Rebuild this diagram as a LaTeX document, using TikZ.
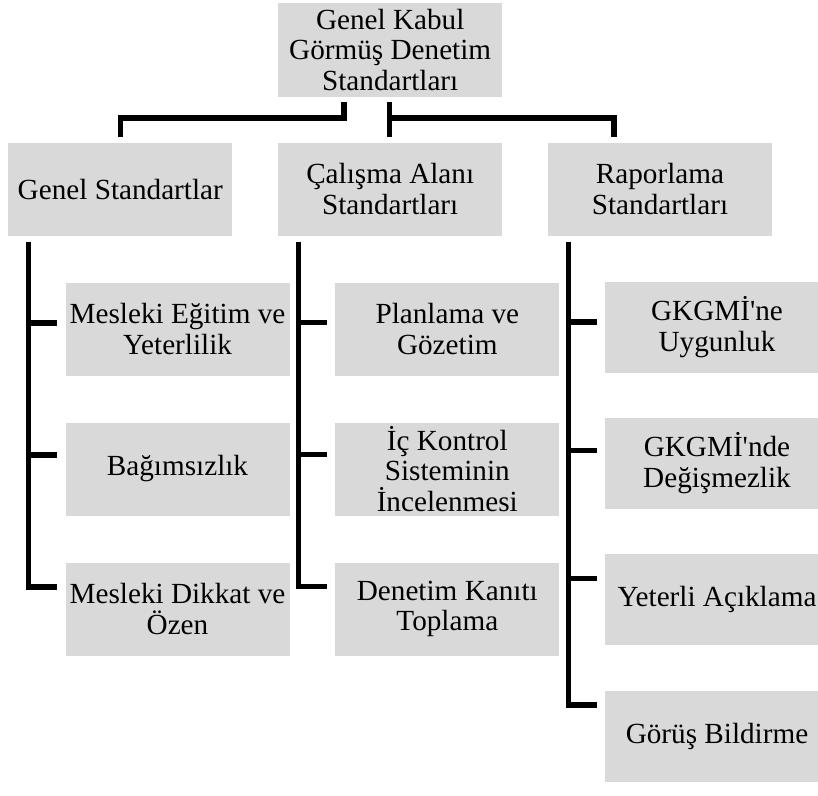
\documentclass[tikz,border=0pt]{standalone}
\usepackage{fontspec}
\setmainfont{Liberation Serif}
\usetikzlibrary{calc}
\definecolor{boxgray}{HTML}{D9D9D9}
\begin{document}
\begin{tikzpicture}[x=0.75pt,y=-0.75pt,
  box/.style={fill=boxgray, draw=none, inner sep=0pt, minimum width=168pt,
    minimum height=69.75pt, align=center,
    font=\fontsize{21.9pt}{23pt}\selectfont},
  shortbox/.style={box, minimum height=68pt},
  link/.style={line width=4pt, line join=miter, line cap=butt}]
\useasboundingbox (0,0) rectangle (818,796);
\clip (0,0) rectangle (818,796);

% top of the hierarchy
\node[box, minimum height=70.5pt] (top) at (390.2,49.7) {Genel Kabul\\Görmüş Denetim\\Standartları};

% three groups of standards
\node[box] (gen) at (120.3,189.2) {Genel Standartlar};
\node[box] (cal) at (390.2,189.2) {Çalışma Alanı\\Standartları};
\node[box] (rap) at (660,189.2) {Raporlama\\Standartları};

% general standards
\node[box] (g1) at (177.5,329.2) {Mesleki Eğitim ve\\Yeterlilik};
\node[box] (g2) at (177.5,469) {Bağımsızlık};
\node[box] (g3) at (177.5,609) {Mesleki Dikkat ve\\Özen};

% field work standards
\node[box] (c1) at (447.3,329.2) {Planlama ve\\Gözetim};
\node[box] (c2) at (447.3,469) {İç Kontrol\\Sisteminin\\İncelenmesi};
\node[box] (c3) at (447.3,609) {Denetim Kanıtı\\Toplama};

% reporting standards
\node[shortbox] (r1) at (717,327.2) {GKGMİ\textquotesingle ne\\Uygunluk};
\node[shortbox] (r2) at (717,463.2) {GKGMİ\textquotesingle nde\\Değişmezlik};
\node[shortbox] (r3) at (717,599.7) {Yeterli Açıklama};
\node[shortbox] (r4) at (717,736.2) {Görüş Bildirme};

% connectors from the top box to the groups
\coordinate (bar) at (0,118);
\coordinate (lt) at ($(top.south)+(-46.2,4.6)$);
\coordinate (mt) at ($(top.south)+(-0.7,4.6)$);
\coordinate (ge) at ($(gen.north)+(0.2,-5.4)$);
\coordinate (ce) at ($(cal.north)+(-0.7,-5.4)$);
\coordinate (re) at ($(rap.north)+(-46,-5.4)$);
\draw[link] (lt) -- (lt |- bar) -- (ge |- bar) -- (ge);
\draw[link] (mt) -- (ce);
\draw[link] (mt |- bar) -- (re |- bar) -- (re);

% trunks under each group
\coordinate (gtr) at ($(gen.south west)+(20.5,5.6)$);
\coordinate (ctr) at ($(cal.south west)+(20.5,5.6)$);
\coordinate (rtr) at ($(rap.south west)+(21,5.6)$);

% tick ends
\coordinate (g1t) at (56.7,323);
\coordinate (g2t) at (56.7,455);
\coordinate (g3t) at (56.7,587);
\coordinate (c1t) at (326.7,322.5);
\coordinate (c2t) at (326.7,454.5);
\coordinate (c3t) at (326.7,586.7);
\coordinate (r1t) at (596.7,322);
\coordinate (r2t) at (596.7,450.5);
\coordinate (r3t) at (596.7,578.5);
\coordinate (r4t) at (596.7,705);

\draw[link] (gtr) |- (g3t);
\draw[link] (gtr |- g1t) -- (g1t);
\draw[link] (gtr |- g2t) -- (g2t);

\draw[link] (ctr) |- (c3t);
\draw[link] (ctr |- c1t) -- (c1t);
\draw[link] (ctr |- c2t) -- (c2t);

\draw[link] (rtr) |- (r4t);
\draw[link] (rtr |- r1t) -- (r1t);
\draw[link] (rtr |- r2t) -- (r2t);
\draw[link] (rtr |- r3t) -- (r3t);
\end{tikzpicture}
\end{document}
